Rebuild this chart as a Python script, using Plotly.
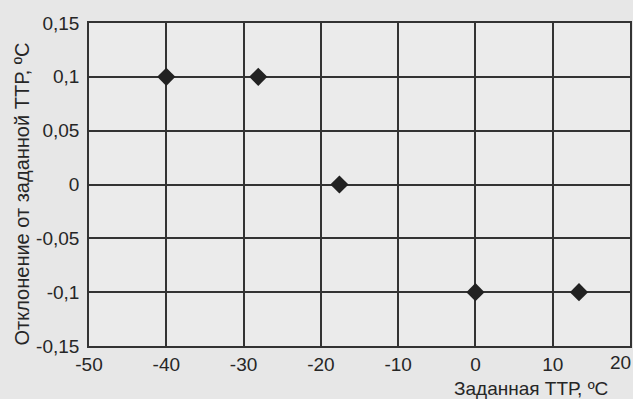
import plotly.graph_objects as go

# Data
x_vals = [-40, -28.1, -17.6, 0, 13.4]
y_vals = [0.1, 0.1, 0.0, -0.1, -0.1]

x_ticks = [-50, -40, -30, -20, -10, 0, 10, 20]
x_ticktext = ["-50", "-40", "-30", "-20", "-10", "0", "10", "20"]
y_ticks = [-0.15, -0.1, -0.05, 0, 0.05, 0.1, 0.15]
y_ticktext = ["-0,15", "-0,1", "-0,05", "0", "0,05", "0,1", "0,15"]

x_title = "Заданная ТТР, ºC"
y_title = "Отклонение от заданной ТТР, ºC"

font_family = "Liberation Sans, Arial, sans-serif"
grid_color = "#333333"
text_color = "#262626"

fig = go.Figure()
fig.add_trace(go.Scatter(
    x=x_vals, y=y_vals, mode="markers",
    marker=dict(symbol="diamond", size=14, color="#222222"),
    cliponaxis=False, showlegend=False,
))

# last x tick label is drawn as an annotation so it stays inside the page
shown_x_text = x_ticktext[:-1] + [""]

fig.update_layout(
    width=633, height=399,
    margin=dict(l=89, r=3, t=23, b=53),
    paper_bgcolor="#e7e7e7",
    plot_bgcolor="#ebebeb",
    font=dict(family=font_family, size=19, color=text_color),
    xaxis=dict(
        range=[-50, 20], tickmode="array", tickvals=x_ticks, ticktext=shown_x_text,
        showgrid=True, gridcolor=grid_color, gridwidth=1.6,
        showline=True, linecolor=grid_color, linewidth=1.6, mirror=True,
        zeroline=False, ticks="", ticklen=0, automargin=False,
        tickfont=dict(size=19),
    ),
    yaxis=dict(
        range=[-0.15, 0.15], tickmode="array", tickvals=y_ticks, ticktext=y_ticktext,
        showgrid=True, gridcolor=grid_color, gridwidth=1.6,
        showline=True, linecolor=grid_color, linewidth=1.6, mirror=True,
        zeroline=False, ticks="", automargin=False,
        ticklabelstandoff=4,
        tickfont=dict(size=19),
    ),
    annotations=[
        dict(
            text=x_title, xref="paper", yref="paper", x=1.0, y=0, xanchor="right",
            yanchor="top", yshift=-30, xshift=-20, showarrow=False,
            font=dict(size=19, family=font_family, color=text_color),
        ),
        dict(
            text=x_ticktext[-1], xref="x", yref="paper", x=x_ticks[-1], y=0,
            xanchor="right", yanchor="top", xshift=3, yshift=-4, showarrow=False,
            font=dict(size=19, family=font_family, color=text_color),
        ),
        dict(
            text=y_title, xref="paper", yref="paper", x=0, y=0.5, textangle=-90,
            xanchor="center", yanchor="middle", xshift=-68, yshift=-10,
            showarrow=False,
            font=dict(size=20, family=font_family, color=text_color),
        ),
    ],
)

fig.write_html("out.html", config={"displayModeBar": False},
               post_script="document.body.style.margin='0';")
